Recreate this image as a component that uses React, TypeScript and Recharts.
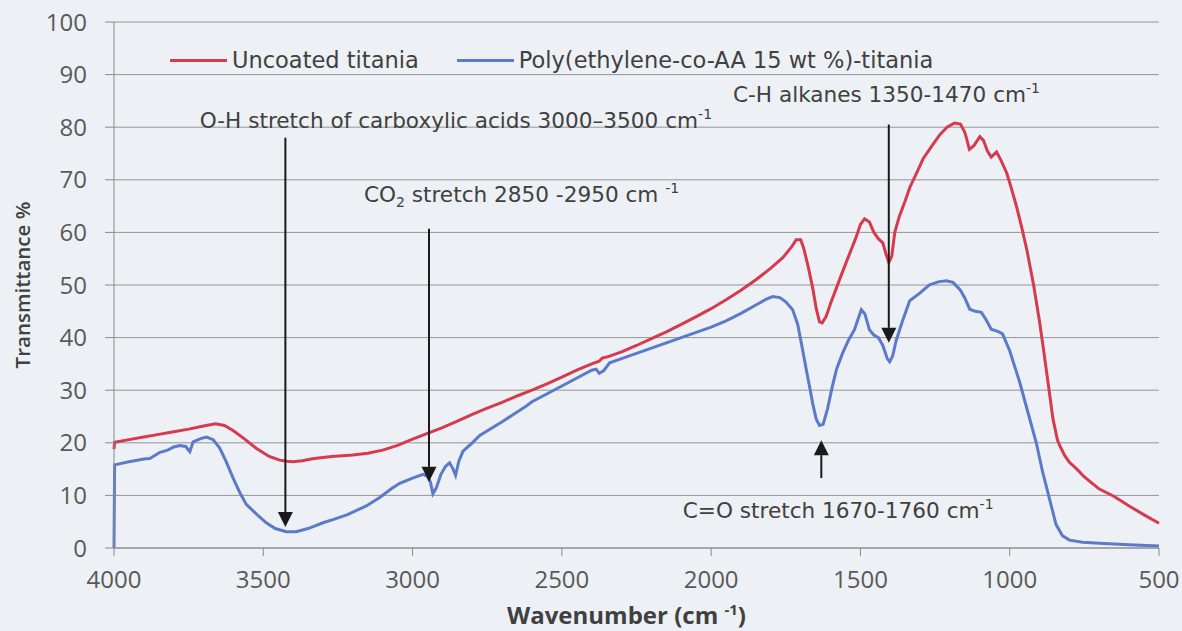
import React from 'react';
import {
  LineChart, Line, XAxis, YAxis, CartesianGrid, Legend, ReferenceLine, ReferenceDot,
} from 'recharts';

// wavenumber (cm-1) / transmittance (%)
const uncoatedWn = [4000, 3998, 3950, 3900, 3850, 3800, 3750, 3700, 3660, 3630, 3600, 3560, 3520, 3480, 3445, 3420, 3400, 3370, 3330, 3270, 3200, 3150, 3100, 3050, 3000, 2950, 2900, 2850, 2800, 2750, 2700, 2650, 2600, 2550, 2500, 2450, 2400, 2375, 2365, 2350, 2300, 2250, 2200, 2150, 2100, 2050, 2000, 1950, 1900, 1850, 1800, 1760, 1730, 1715, 1700, 1690, 1675, 1660, 1648, 1637, 1628, 1615, 1600, 1580, 1560, 1536, 1515, 1500, 1486, 1470, 1455, 1440, 1425, 1415, 1405, 1395, 1385, 1370, 1350, 1335, 1310, 1290, 1260, 1235, 1210, 1185, 1165, 1150, 1135, 1120, 1100, 1088, 1075, 1062, 1044, 1030, 1010, 995, 977, 960, 943, 920, 900, 885, 872, 855, 840, 832, 815, 800, 775, 750, 700, 650, 600, 550, 500];
const uncoatedT = [18.8, 20.1, 20.6, 21.1, 21.6, 22.1, 22.6, 23.2, 23.6, 23.3, 22.3, 20.6, 18.8, 17.4, 16.7, 16.5, 16.4, 16.6, 17.0, 17.4, 17.7, 18.0, 18.6, 19.5, 20.7, 21.8, 22.9, 24.1, 25.4, 26.6, 27.7, 28.9, 30.0, 31.2, 32.5, 33.8, 35.0, 35.5, 36.1, 36.3, 37.3, 38.5, 39.8, 41.1, 42.5, 44.0, 45.5, 47.2, 49.0, 51.0, 53.2, 55.2, 57.3, 58.6, 58.6, 57.0, 53.5, 49.5, 45.5, 43.0, 42.8, 44.0, 46.5, 49.5, 52.5, 56.0, 59.0, 61.5, 62.6, 62.0, 60.0, 58.8, 58.0, 56.0, 54.3, 55.5, 60.0, 63.0, 66.0, 68.5, 71.5, 74.0, 76.5, 78.5, 80.0, 80.8, 80.6, 79.0, 75.8, 76.5, 78.2, 77.5, 75.5, 74.3, 75.3, 73.8, 71.3, 68.5, 64.9, 61.0, 56.8, 50.0, 43.0, 37.0, 31.6, 24.5, 20.5, 19.4, 17.5, 16.3, 15.0, 13.5, 11.2, 9.8, 8.0, 6.3, 4.7];

const coatedWn = [4000, 3998, 3950, 3900, 3880, 3846, 3820, 3800, 3780, 3760, 3746, 3735, 3710, 3690, 3668, 3646, 3625, 3601, 3580, 3557, 3520, 3490, 3460, 3423, 3390, 3350, 3300, 3267, 3220, 3155, 3110, 3070, 3043, 3000, 2965, 2950, 2940, 2932, 2920, 2905, 2890, 2876, 2866, 2856, 2845, 2831, 2800, 2775, 2700, 2619, 2600, 2500, 2400, 2385, 2375, 2360, 2340, 2300, 2250, 2200, 2150, 2100, 2050, 2000, 1950, 1900, 1850, 1815, 1794, 1770, 1750, 1727, 1710, 1694, 1680, 1671, 1660, 1648, 1637, 1625, 1610, 1595, 1580, 1560, 1540, 1520, 1505, 1497, 1485, 1470, 1455, 1440, 1425, 1410, 1402, 1392, 1380, 1360, 1335, 1300, 1270, 1240, 1212, 1190, 1165, 1150, 1134, 1115, 1095, 1080, 1062, 1040, 1024, 1000, 967, 940, 911, 890, 867, 845, 823, 800, 756, 700, 600, 500];
const coatedT = [0, 15.8, 16.4, 16.9, 17.0, 18.2, 18.6, 19.2, 19.5, 19.3, 18.3, 20.2, 20.8, 21.1, 20.6, 19.0, 16.5, 13.3, 10.7, 8.3, 6.3, 4.8, 3.7, 3.1, 3.1, 3.7, 4.8, 5.4, 6.3, 8.0, 9.6, 11.3, 12.3, 13.3, 14.0, 13.6, 12.5, 10.3, 11.5, 14.0, 15.5, 16.2, 15.2, 13.8, 16.5, 18.4, 20.0, 21.4, 24.0, 27.0, 27.8, 30.8, 33.8, 34.0, 33.2, 33.7, 35.2, 36.0, 37.0, 38.0, 39.0, 40.0, 41.0, 42.0, 43.2, 44.6, 46.2, 47.3, 47.8, 47.6, 46.8, 45.3, 42.5, 37.8, 33.5, 30.9, 27.5, 24.5, 23.3, 23.5, 26.5, 30.5, 34.0, 37.0, 39.5, 41.5, 44.0, 45.3, 44.5, 41.5, 40.5, 40.0, 38.5, 36.0, 35.4, 36.5, 39.5, 43.0, 47.0, 48.5, 50.0, 50.6, 50.8, 50.5, 49.0, 47.5, 45.4, 45.0, 44.8, 43.5, 41.6, 41.2, 40.7, 37.5, 31.6, 26.0, 20.0, 14.5, 9.4, 4.5, 2.3, 1.5, 1.1, 0.9, 0.6, 0.4];

const seriesNames = ['Uncoated titania', 'Poly(ethylene-co-AA 15 wt %)-titania'];
const seriesColors = ['#d63a4e', '#5b7ac9'];

const xTicks = [4000, 3500, 3000, 2500, 2000, 1500, 1000, 500];
const yTicks = [0, 10, 20, 30, 40, 50, 60, 70, 80, 90, 100];

// annotation arrows: wavenumber, tail and tip transmittance
const arrowWn = [3426, 2945, 1405, 1631];
const arrowFrom = [78.0, 60.7, 80.5, 13.3];
const arrowTo = [4.0, 12.6, 39.0, 20.5];

// annotation texts: [text, 'n' | 'sub' | 'sup'] pieces, anchored at (wn, %) baseline start
const noteParts: [string, string][][] = [
  [['O-H stretch of carboxylic acids 3000–3500 cm', 'n'], ['-1', 'sup']],
  [['CO', 'n'], ['2', 'sub'], [' stretch 2850 -2950 cm ', 'n'], ['-1', 'sup']],
  [['C-H alkanes 1350-1470 cm', 'n'], ['-1', 'sup']],
  [['C=O stretch 1670-1760 cm', 'n'], ['-1', 'sup']],
];
const noteWn = [3713, 3163, 1927, 2095];
const noteY = [79.9, 65.8, 84.8, 5.7];

const uncoated = uncoatedWn.map((wn, i) => ({ wn, t: uncoatedT[i] }));
const coated = coatedWn.map((wn, i) => ({ wn, t: coatedT[i] }));

const tickFont = { fontFamily: 'Open Sans', fontSize: 24, fill: '#595959' };
const noteFont = 'DejaVu Sans';
const noteSize = 21.6;

const Arrow = (props: any) => {
  const { x1, y1, x2, y2 } = props;
  const dir = Math.sign(y2 - y1);
  const h = 15;
  const w = 7.5;
  return (
    <g>
      <line x1={x1} y1={y1} x2={x2} y2={y2 - dir * h} stroke="#1a1a1a" strokeWidth={2} />
      <polygon points={`${x2 - w},${y2 - dir * h} ${x2 + w},${y2 - dir * h} ${x2},${y2}`} fill="#1a1a1a" />
    </g>
  );
};

const NoteText = (parts: [string, string][]) => (props: any) => {
  const { cx, cy } = props;
  let shift = 0;
  return (
    <text x={cx} y={cy} fontFamily={noteFont} fontSize={noteSize} fill="#404040">
      {parts.map(([s, kind], i) => {
        const target = kind === 'sup' ? -9 : kind === 'sub' ? 5 : 0;
        const dy = target - shift;
        shift = target;
        return (
          <tspan key={i} dy={dy} fontSize={kind === 'n' ? noteSize : 14}>{s}</tspan>
        );
      })}
    </text>
  );
};

const renderLegend = () => (
  <div style={{ display: 'flex', alignItems: 'center', fontFamily: noteFont, fontSize: 22.5, color: '#404040', whiteSpace: 'nowrap' }}>
    {seriesNames.map((name, i) => (
      <div key={name} style={{ display: 'flex', alignItems: 'center', marginLeft: i === 0 ? 0 : 38 }}>
        <span style={{ display: 'inline-block', width: 57, height: 3, background: seriesColors[i], marginRight: 5 }} />
        <span>{name}</span>
      </div>
    ))}
  </div>
);

export default function App() {
  return (
    <div style={{ position: 'absolute', left: 0, top: 0, width: 1182, height: 631, background: '#edf0f4' }}>
      <LineChart width={1182} height={631} margin={{ top: 22, right: 23, left: 0, bottom: 0 }}>
        <CartesianGrid vertical={false} stroke="#959595" />
        <XAxis
          type="number"
          dataKey="wn"
          domain={[500, 4000]}
          ticks={xTicks}
          reversed
          height={83}
          tick={tickFont}
          tickSize={8}
          tickMargin={15}
          stroke="#8a8a8a"
          label={{
            content: (p: any) => {
              const vb = p.viewBox;
              const cx = vb.x + vb.width / 2 - 10;
              return (
                <text x={cx} y={624} textAnchor="middle" fontFamily="Open Sans" fontWeight={700} fontSize={24} fill="#404040">
                  <tspan>Wavenumber (cm </tspan>
                  <tspan dy={-9} fontSize={15}>-1</tspan>
                  <tspan dy={9}>)</tspan>
                </text>
              );
            },
          }}
        />
        <YAxis
          type="number"
          domain={[0, 100]}
          ticks={yTicks}
          width={114}
          tick={tickFont}
          tickSize={9}
          tickMargin={18}
          stroke="#8a8a8a"
          label={{
            content: (p: any) => {
              const vb = p.viewBox;
              const cx = vb.x + 22;
              const cy = vb.y + vb.height / 2;
              return (
                <text x={cx} y={cy} transform={`rotate(-90 ${cx} ${cy})`} textAnchor="middle" dominantBaseline="central" fontFamily="Open Sans" fontWeight={600} fontSize={20.5} fill="#404040">
                  Transmittance %
                </text>
              );
            },
          }}
        />
        <Legend
          layout="horizontal"
          verticalAlign="middle"
          align="center"
          wrapperStyle={{ top: 47, left: 170, width: 'auto' }}
          content={renderLegend}
        />
        <Line data={uncoated} dataKey="t" name={seriesNames[0]} stroke={seriesColors[0]} strokeWidth={3} dot={false} type="linear" isAnimationActive={false} />
        <Line data={coated} dataKey="t" name={seriesNames[1]} stroke={seriesColors[1]} strokeWidth={3} dot={false} type="linear" isAnimationActive={false} />
        {arrowWn.map((wn, i) => (
          <ReferenceLine
            key={`a${i}`}
            segment={[{ x: wn, y: arrowFrom[i] }, { x: wn, y: arrowTo[i] }]}
            shape={Arrow}
          />
        ))}
        {noteWn.map((wn, i) => (
          <ReferenceDot key={`n${i}`} x={wn} y={noteY[i]} r={0} shape={NoteText(noteParts[i])} />
        ))}
      </LineChart>
    </div>
  );
}
